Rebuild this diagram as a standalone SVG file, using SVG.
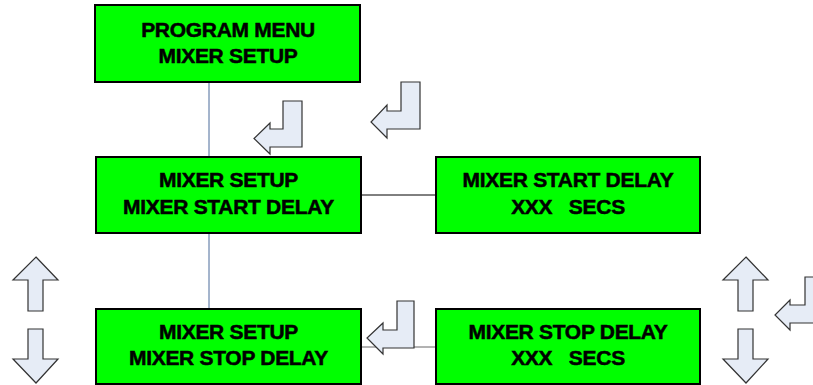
<svg xmlns="http://www.w3.org/2000/svg" width="813" height="385" viewBox="0 0 813 385">
<style>
.box{fill:#00FF00;stroke:#000;stroke-width:2}
.t{font-family:"Liberation Sans",Arial,sans-serif;font-weight:bold;font-size:21px;fill:#000;stroke:#000;stroke-width:0.5;text-anchor:middle;letter-spacing:-0.3px}
.arr{fill:#E6ECF6;stroke:#333;stroke-width:1.2;stroke-linejoin:miter}
.ln{fill:none;stroke-width:1}
</style>
<rect width="813" height="385" fill="#fff"/>
<g id="connectors">
<line class="ln" x1="209" y1="82" x2="209" y2="157" stroke="#4a6a9a"/>
<line class="ln" x1="209" y1="233" x2="209" y2="309" stroke="#4a6a9a"/>
<line class="ln" x1="361" y1="195" x2="436" y2="195" stroke="#000"/>
<line class="ln" x1="361" y1="347" x2="436" y2="347" stroke="#666" stroke-width="1.5"/>
</g>
<g id="program-menu">
<rect class="box" x="95" y="5" width="265" height="77"/>
<text class="t" x="228" y="37">PROGRAM MENU</text>
<text class="t" x="228" y="63">MIXER SETUP</text>
</g>
<g id="mixer-setup-start">
<rect class="box" x="96" y="157" width="265" height="76"/>
<text class="t" x="228.5" y="187">MIXER SETUP</text>
<text class="t" x="228.5" y="214">MIXER START DELAY</text>
</g>
<g id="mixer-start-delay">
<rect class="box" x="436" y="157" width="264" height="76"/>
<text class="t" x="568" y="187">MIXER START DELAY</text>
<text class="t" x="568" y="214" xml:space="preserve">XXX   SECS</text>
</g>
<g id="mixer-setup-stop">
<rect class="box" x="96" y="309" width="265" height="75"/>
<text class="t" x="228.5" y="339">MIXER SETUP</text>
<text class="t" x="228.5" y="365">MIXER STOP DELAY</text>
</g>
<g id="mixer-stop-delay">
<rect class="box" x="436" y="309" width="264" height="75"/>
<text class="t" x="568" y="339">MIXER STOP DELAY</text>
<text class="t" x="568" y="365" xml:space="preserve">XXX   SECS</text>
</g>
<g id="enter-arrows">
<polygon class="arr" points="283,101 302,101 302,147 270,147 270,154 254,138.5 270,123 270,129 283,129"/>
<polygon class="arr" points="401,82 420,82 420,129 387,129 387,138 371,122 387,105 387,111 401,111"/>
<polygon class="arr" points="397,301 414,301 414,348 383,348 383,354 367,338 383,323 383,330 397,330"/>
<polygon class="arr" points="805,277 820,277 820,323 790,323 790,330 775,315 790,300 790,305 805,305"/>
</g>
<g id="nav-arrows">
<polygon class="arr" points="36,257 58,280 43,280 43,311 28,311 28,280 13,280"/>
<polygon class="arr" points="28,329 43,329 43,359 58,359 36,383 13,359 28,359"/>
<polygon class="arr" points="746,257 768,280 753,280 753,311 738,311 738,280 723,280"/>
<polygon class="arr" points="738,329 753,329 753,359 768,359 746,383 723,359 738,359"/>
</g>
</svg>
